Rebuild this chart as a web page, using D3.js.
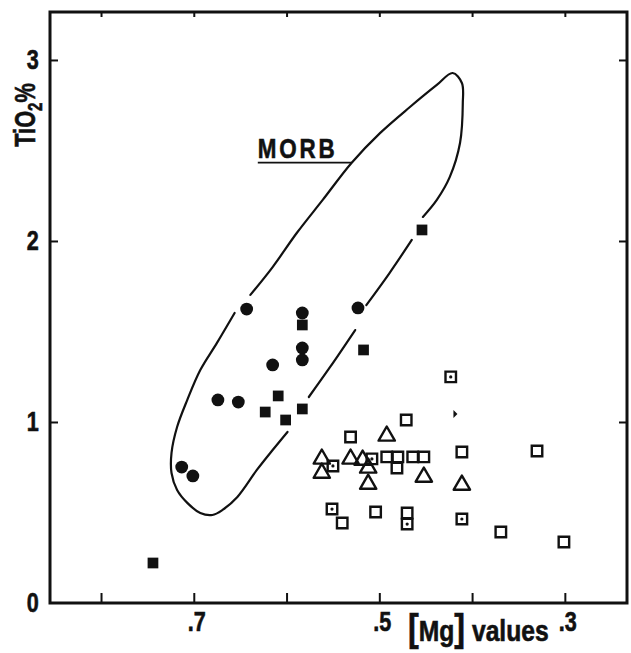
<!DOCTYPE html>
<html>
<head>
<meta charset="utf-8">
<script src="https://cdn.jsdelivr.net/npm/d3@7"></script>
<style>
  html, body { margin: 0; padding: 0; background: #fff; }
  svg text {
    font-family: "Liberation Sans", Arial, sans-serif;
    font-weight: bold;
    fill: #111;
    stroke: #111;
    stroke-width: 0.6;
  }
</style>
</head>
<body>
<div id="chart"></div>
<script>
const W = 631, H = 653;
const margin = { top: 12, right: 4, bottom: 50, left: 50 };
const squeeze = "scale(0.8,1)"; // narrow type, like the original lettering

// axis ticks
const xTicks = [0.8, 0.7, 0.6, 0.5, 0.4, 0.3];
const xTickLabels = ["", ".7", "", ".5", "", ".3"];
const yTicks = [0, 1, 2, 3];

// [Mg] value, TiO2 %
const filledCircles = [
  [0.713, 0.751], [0.701, 0.702], [0.674, 1.122], [0.652, 1.110],
  [0.643, 1.624], [0.615, 1.315], [0.583, 1.602], [0.583, 1.409],
  [0.583, 1.343], [0.523, 1.630]
];
const filledSquares = [
  [0.744, 0.221], [0.623, 1.055], [0.609, 1.144], [0.601, 1.011],
  [0.583, 1.072], [0.583, 1.536], [0.517, 1.398], [0.454, 2.061]
];
const openSquares = [
  [0.531, 0.917], [0.471, 1.011], [0.540, 0.442], [0.504, 0.503],
  [0.470, 0.497], [0.492, 0.807], [0.480, 0.807], [0.481, 0.746],
  [0.464, 0.807], [0.452, 0.807], [0.411, 0.834], [0.330, 0.840],
  [0.369, 0.392], [0.301, 0.337]
];
const dottedSquares = [
  [0.423, 1.249], [0.550, 0.757], [0.551, 0.519], [0.470, 0.436],
  [0.411, 0.464], [0.508, 0.796]
];
const openTriangles = [
  [0.492, 0.923], [0.562, 0.796], [0.562, 0.718], [0.531, 0.796],
  [0.518, 0.790], [0.512, 0.746], [0.512, 0.657], [0.452, 0.696],
  [0.411, 0.652]
];
const strayMark = [[0.419, 1.044]];

// MORB field outline, broken where it passes the samples
const morbOutline = [
  [[0.639, 1.702], [0.615, 1.856], [0.589, 2.044], [0.561, 2.227], [0.530, 2.431],
   [0.499, 2.597], [0.467, 2.740], [0.438, 2.862], [0.421, 2.928], [0.411, 2.873],
   [0.410, 2.762], [0.413, 2.541], [0.424, 2.354], [0.438, 2.227], [0.453, 2.133]],
  [[0.465, 2.006], [0.489, 1.823], [0.514, 1.646]],
  [[0.526, 1.508], [0.553, 1.304], [0.576, 1.138]],
  [[0.599, 0.945], [0.615, 0.845], [0.632, 0.735], [0.653, 0.586], [0.669, 0.514],
   [0.680, 0.486], [0.693, 0.497], [0.707, 0.553], [0.718, 0.624], [0.724, 0.718],
   [0.724, 0.829], [0.718, 0.972], [0.707, 1.122], [0.693, 1.287], [0.675, 1.437],
   [0.656, 1.602]]
];
const morbLabel = { text: "MORB", at: [0.631, 2.46], lineEnd: 0.530 };

const ink = "#111";

const svg = d3.select("#chart")
    .append("svg")
    .attr("width", W)
    .attr("height", H);

const innerW = W - margin.left - margin.right;
const innerH = H - margin.top - margin.bottom;

const x = d3.scaleLinear().domain([0.855, 0.233]).range([0, innerW]);
const y = d3.scaleLinear().domain([0, 3.265]).range([innerH, 0]);

const g = svg.append("g").attr("transform", `translate(${margin.left},${margin.top})`);

// MORB envelope
const outline = d3.line()
    .x(d => x(d[0]))
    .y(d => y(d[1]))
    .curve(d3.curveCatmullRom.alpha(0.5));

g.selectAll(".morb")
    .data(morbOutline)
    .enter()
    .append("path")
    .attr("class", "morb")
    .attr("d", outline)
    .attr("fill", "none")
    .attr("stroke", ink)
    .attr("stroke-width", 2.2)
    .attr("stroke-linecap", "round");

// MORB label + leader
g.append("text")
    .attr("transform", `translate(${x(morbLabel.at[0])},${y(morbLabel.at[1])}) ${squeeze}`)
    .attr("font-size", 28)
    .attr("letter-spacing", 3.5)
    .text(morbLabel.text);

g.append("line")
    .attr("x1", x(morbLabel.at[0]))
    .attr("x2", x(morbLabel.lineEnd))
    .attr("y1", y(morbLabel.at[1]) + 5)
    .attr("y2", y(morbLabel.at[1]) + 5)
    .attr("stroke", ink)
    .attr("stroke-width", 1.8);

// symbols
const sym = (type, size) => d3.symbol().type(type).size(size)();

g.selectAll(".fcirc")
    .data(filledCircles)
    .enter()
    .append("circle")
    .attr("cx", d => x(d[0]))
    .attr("cy", d => y(d[1]))
    .attr("r", 6.4)
    .attr("fill", ink);

g.selectAll(".fsq")
    .data(filledSquares)
    .enter()
    .append("path")
    .attr("d", sym(d3.symbolSquare, 115))
    .attr("transform", d => `translate(${x(d[0])},${y(d[1])})`)
    .attr("fill", ink);

g.selectAll(".osq")
    .data(openSquares.concat(dottedSquares))
    .enter()
    .append("path")
    .attr("d", sym(d3.symbolSquare, 110))
    .attr("transform", d => `translate(${x(d[0])},${y(d[1])})`)
    .attr("fill", "none")
    .attr("stroke", ink)
    .attr("stroke-width", 2.4);

g.selectAll(".dot")
    .data(dottedSquares)
    .enter()
    .append("circle")
    .attr("cx", d => x(d[0]))
    .attr("cy", d => y(d[1]))
    .attr("r", 1.6)
    .attr("fill", ink);

g.selectAll(".tri")
    .data(openTriangles)
    .enter()
    .append("path")
    .attr("d", sym(d3.symbolTriangle, 115))
    .attr("transform", d => `translate(${x(d[0])},${y(d[1])})`)
    .attr("fill", "none")
    .attr("stroke", ink)
    .attr("stroke-width", 2.4)
    .attr("stroke-linejoin", "round");

g.selectAll(".stray")
    .data(strayMark)
    .enter()
    .append("path")
    .attr("d", "M-1,-4L3,0L-1,4Z")
    .attr("transform", d => `translate(${x(d[0])},${y(d[1])})`)
    .attr("fill", ink);

// axes
const bottomAxis = g.append("g")
    .attr("transform", `translate(0,${innerH})`)
    .call(d3.axisBottom(x)
        .tickValues(xTicks)
        .tickSize(-10)
        .tickSizeOuter(0)
        .tickPadding(9)
        .tickFormat((d, i) => xTickLabels[i]));

const leftAxis = g.append("g")
    .call(d3.axisLeft(y)
        .tickValues(yTicks)
        .tickSize(-8)
        .tickSizeOuter(0)
        .tickPadding(14)
        .tickFormat(d3.format("d")));

g.append("g")
    .call(d3.axisTop(x).tickValues(xTicks).tickSize(-5).tickSizeOuter(0).tickFormat(""));

g.append("g")
    .attr("transform", `translate(${innerW},0)`)
    .call(d3.axisRight(y).tickValues(yTicks.slice(1)).tickSize(-8).tickSizeOuter(0).tickFormat(""));

g.selectAll(".domain").remove();
g.selectAll(".tick line").attr("stroke", ink).attr("stroke-width", 2);
leftAxis.select(".tick line").remove();

bottomAxis.selectAll("text")
    .attr("font-size", 27)
    .attr("font-family", null)
    .attr("fill", ink)
    .attr("dx", 3)
    .attr("transform", squeeze);

leftAxis.selectAll("text")
    .attr("font-size", 27)
    .attr("font-family", null)
    .attr("fill", ink)
    .attr("transform", squeeze);

// frame
g.append("rect")
    .attr("x", 0)
    .attr("y", 0)
    .attr("width", innerW)
    .attr("height", innerH)
    .attr("fill", "none")
    .attr("stroke", ink)
    .attr("stroke-width", 3);

// axis titles
const xTitle = svg.append("text")
    .attr("transform", "translate(408,641) scale(0.85,1)")
    .attr("font-size", 29);
xTitle.append("tspan").attr("font-size", 38).text("[");
xTitle.append("tspan").text("Mg");
xTitle.append("tspan").attr("font-size", 38).text("]");
xTitle.append("tspan").text(" values");

const yTitle = svg.append("text")
    .attr("transform", "translate(35,115) rotate(-90) scale(0.75,1)")
    .attr("text-anchor", "middle")
    .attr("font-size", 29);
yTitle.append("tspan").text("TiO");
yTitle.append("tspan").attr("font-size", 20).attr("dy", 7).text("2");
yTitle.append("tspan").attr("dy", -7).text("%");
</script>
</body>
</html>
